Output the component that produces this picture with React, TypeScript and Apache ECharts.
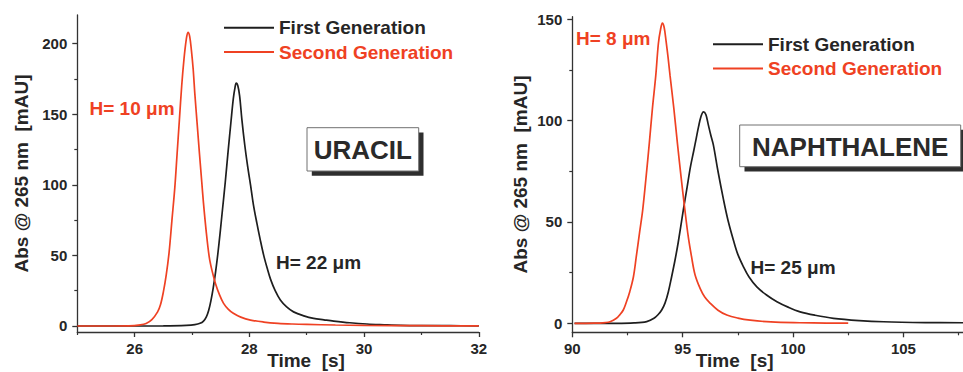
import React, { useEffect, useRef } from "react";
import * as echarts from "echarts";

// ---- Data ----
const seriesNames = ["First Generation", "Second Generation"];

// URACIL (left panel)
const uracilFirstT = [25, 26, 26.5, 26.9, 27.05, 27.14, 27.2, 27.25, 27.29, 27.33, 27.37, 27.41, 27.45, 27.49, 27.53, 27.58, 27.63, 27.68, 27.72, 27.75, 27.77, 27.8, 27.83, 27.87, 27.92, 27.97, 28.02, 28.07, 28.13, 28.19, 28.25, 28.31, 28.37, 28.45, 28.54, 28.65, 28.77, 28.95, 29.12, 29.3, 29.47, 29.75, 30.05, 30.35, 30.64, 31, 31.5, 32];
const uracilFirstAbs = [0, 0, 0.1, 0.5, 1, 1.9, 3.5, 6.5, 11, 18, 27, 38, 51, 66, 82, 102, 124, 145, 161, 169, 172, 170, 163, 146, 128, 113, 100, 86, 73, 61, 50, 41, 33, 25, 18.4, 13.5, 10, 7.2, 5.4, 4.4, 3.5, 2.3, 1.4, 0.9, 0.5, 0.3, 0.2, 0.1];
const uracilSecondT = [25, 25.5, 25.9, 26.1, 26.2, 26.3, 26.4, 26.45, 26.5, 26.55, 26.6, 26.65, 26.7, 26.74, 26.78, 26.82, 26.86, 26.9, 26.93, 26.96, 26.99, 27.02, 27.05, 27.09, 27.13, 27.17, 27.2, 27.25, 27.3, 27.35, 27.41, 27.48, 27.55, 27.63, 27.72, 27.85, 28.02, 28.25, 28.5, 28.75, 29, 29.5, 30, 31, 32];
const uracilSecondAbs = [0, 0, 0.1, 0.8, 1.8, 4.5, 10, 15, 24, 36, 52, 75, 98, 122, 146, 170, 189, 203, 208, 205, 195, 182, 164, 143, 122, 102, 87, 66, 49, 39, 30, 22, 16, 12, 9, 6.3, 4.2, 2.8, 1.9, 1.4, 1.1, 0.7, 0.4, 0.2, 0.1];

// NAPHTHALENE (right panel)
const naphFirstT = [90.1, 92, 92.8, 93.37, 93.7, 93.9, 94.05, 94.2, 94.35, 94.5, 94.65, 94.8, 95.03, 95.2, 95.35, 95.5, 95.61, 95.72, 95.83, 95.94, 96.05, 96.16, 96.27, 96.39, 96.6, 96.85, 97.05, 97.3, 97.5, 97.75, 98.0, 98.36, 98.8, 99.27, 99.8, 100.32, 101, 101.83, 103, 104.1, 106, 107.7];
const naphFirstAbs = [0, 0, 0.2, 0.9, 2.5, 4.5, 6.6, 10, 15.5, 23, 31, 40, 56, 67, 77, 85, 91, 97, 102, 104.3, 103, 98, 93, 88, 75, 61, 51, 41, 34, 28, 23, 18, 14, 10.7, 7.9, 5.7, 4, 2.5, 1.4, 0.8, 0.4, 0.3];
const naphSecondT = [90.1, 91, 91.5, 91.71, 92.0, 92.15, 92.31, 92.45, 92.6, 92.77, 92.9, 93.05, 93.19, 93.35, 93.49, 93.63, 93.78, 93.9, 94.0, 94.08, 94.16, 94.25, 94.34, 94.43, 94.6, 94.76, 94.93, 95.1, 95.25, 95.4, 95.56, 95.8, 96.0, 96.24, 96.6, 97, 97.5, 98.06, 99, 100.3, 101.5, 102.5];
const naphSecondAbs = [0, 0.1, 0.4, 0.8, 2.5, 4.2, 6.6, 10.5, 15.5, 23, 33, 45, 56, 73, 89, 106, 122, 138, 145, 148, 146, 139, 131, 122, 106, 89, 72, 56, 43, 33, 24, 17, 13, 10, 6.5, 4.1, 2.6, 1.6, 0.7, 0.3, 0.15, 0.1];

// Ticks
const uracilYTicks = [0, 50, 100, 150, 200];
const uracilYMinor = [25, 75, 125, 175];
const uracilXTicks = [26, 28, 30, 32];
const uracilXMinor = [25, 27, 29, 31];
const naphYTicks = [0, 50, 100, 150];
const naphYMinor = [25, 75, 125];
const naphXTicks = [90, 95, 100, 105];
const naphXMinor = [92.5, 97.5, 102.5, 107.5];

// Labels
const compoundNames = ["URACIL", "NAPHTHALENE"];
const plateHeights = ["H= 22 μm", "H= 10 μm", "H= 25 μm", "H= 8 μm"];
const yAxisTitle = "Abs @ 265 nm  [mAU]";
const xAxisTitle = "Time  [s]";

const FONT = "'Liberation Sans', Arial, Helvetica, sans-serif";
const RED = "#ef4123";
const BLACK = "#1e1e1e";
const TEXT = "#262626";
const AXIS = "#333333";

const zip = (t: number[], a: number[]) => t.map((x, i) => [x, a[i]]);

export default function App() {
  const ref = useRef<HTMLDivElement>(null);

  useEffect(() => {
    document.body.style.margin = "0";
    if (!ref.current) return;
    const chart = echarts.init(ref.current, undefined, { renderer: "svg" });

    const axisLine = { show: true, onZero: false, lineStyle: { color: AXIS, width: 1.3 } };
    const tickLabel = { fontSize: 15, fontWeight: "bold", color: TEXT, fontFamily: FONT };
    const nameStyle = { fontSize: 19, fontWeight: "bold", color: TEXT, fontFamily: FONT };

    const mainX = (grid: number, min: number, max: number, ticks: number[], pad: number[]) => ({
      type: "value",
      gridIndex: grid,
      min,
      max,
      position: "bottom",
      axisLine,
      splitLine: { show: false },
      axisTick: { show: true, customValues: ticks, length: 5, lineStyle: { color: AXIS, width: 1.3 } },
      axisLabel: { ...tickLabel, customValues: ticks, margin: 9 },
      name: xAxisTitle,
      nameLocation: "middle",
      nameGap: 19,
      nameMoveOverlap: false,
      nameTextStyle: { ...nameStyle, padding: pad },
    });
    const minorX = (grid: number, min: number, max: number, ticks: number[]) => ({
      type: "value",
      gridIndex: grid,
      min,
      max,
      position: "bottom",
      axisLine: { show: false, onZero: false },
      splitLine: { show: false },
      axisTick: { show: true, customValues: ticks, length: 3, lineStyle: { color: AXIS, width: 1.2 } },
      axisLabel: { show: false },
    });
    const mainY = (grid: number, min: number, max: number, ticks: number[], gap: number) => ({
      type: "value",
      gridIndex: grid,
      min,
      max,
      position: "left",
      axisLine,
      splitLine: { show: false },
      axisTick: { show: true, customValues: ticks, length: 5, lineStyle: { color: AXIS, width: 1.3 } },
      axisLabel: { ...tickLabel, customValues: ticks, margin: 10 },
      name: yAxisTitle,
      nameLocation: "middle",
      nameRotate: 90,
      nameGap: gap,
      nameMoveOverlap: false,
      nameTextStyle: nameStyle,
    });
    const minorY = (grid: number, min: number, max: number, ticks: number[]) => ({
      type: "value",
      gridIndex: grid,
      min,
      max,
      position: "left",
      axisLine: { show: false, onZero: false },
      splitLine: { show: false },
      axisTick: { show: true, customValues: ticks, length: 3, lineStyle: { color: AXIS, width: 1.2 } },
      axisLabel: { show: false },
    });

    const line = (name: string, color: string, data: number[][], xi: number, yi: number) => ({
      type: "line",
      name,
      xAxisIndex: xi,
      yAxisIndex: yi,
      data,
      showSymbol: false,
      symbol: "none",
      smooth: 0.35,
      lineStyle: { color, width: 1.7 },
      itemStyle: { color },
      z: color === RED ? 3 : 2,
    });

    const legend = (left: number, top: number) => ({
      left,
      top,
      padding: 0,
      orient: "vertical",
      itemWidth: 50,
      itemHeight: 2,
      itemGap: 5.3,
      icon: "rect",
      selectedMode: false,
      textStyle: { fontSize: 19, fontWeight: "bold", fontFamily: FONT },
      data: [
        { name: seriesNames[0], textStyle: { color: TEXT } },
        { name: seriesNames[1], textStyle: { color: RED } },
      ],
    });

    const box = (x: number, y: number, w: number, h: number, label: string, size: number) => [
      { type: "rect", shape: { x: x + 4.8, y: y + 4.8, width: w, height: h }, style: { fill: "#2e2e2e" }, z: 10 },
      { type: "rect", shape: { x, y, width: w, height: h }, style: { fill: "#ffffff", stroke: "#707070", lineWidth: 1 }, z: 11 },
      {
        type: "text",
        x: x + w / 2,
        y: y + h / 2 + 1,
        style: { text: label, fontSize: size, fontWeight: "bold", fontFamily: FONT, fill: "#2a2a2a", align: "center", verticalAlign: "middle" },
        z: 12,
      },
    ];
    const htext = (x: number, y: number, text: string, color: string) => ({
      type: "text",
      x,
      y,
      style: { text, fontSize: 19, fontWeight: "bold", fontFamily: FONT, fill: color, align: "left", verticalAlign: "middle" },
      z: 12,
    });

    chart.setOption({
      animation: false,
      backgroundColor: "#ffffff",
      grid: [
        { left: 77.3, top: 15, width: 401.5, height: 317, containLabel: false, outerBoundsMode: "none" },
        { left: 572.3, top: 16.7, width: 390.7, height: 315.6, containLabel: false, outerBoundsMode: "none" },
      ],
      xAxis: [
        mainX(0, 25, 32, uracilXTicks, [0, 0, 0, 56]),
        minorX(0, 25, 32, uracilXMinor),
        mainX(1, 90, 107.7, naphXTicks, [0, 66, 0, 0]),
        minorX(1, 90, 107.7, naphXMinor),
      ],
      yAxis: [
        mainY(0, -4.25, 220.25, uracilYTicks, 46.5),
        minorY(0, -4.25, 220.25, uracilYMinor),
        mainY(1, -4.4, 151.2, naphYTicks, 42),
        minorY(1, -4.4, 151.2, naphYMinor),
      ],
      legend: [legend(224, 18.2), legend(713, 34.8)],
      series: [
        line(seriesNames[0], BLACK, zip(uracilFirstT, uracilFirstAbs), 0, 0),
        line(seriesNames[1], RED, zip(uracilSecondT, uracilSecondAbs), 0, 0),
        line(seriesNames[0], BLACK, zip(naphFirstT, naphFirstAbs), 2, 2),
        line(seriesNames[1], RED, zip(naphSecondT, naphSecondAbs), 2, 2),
      ],
      graphic: [
        ...box(307, 127.7, 111.7, 43.3, compoundNames[0], 26),
        ...box(739.7, 125, 221, 41.7, compoundNames[1], 26),
        htext(276, 262, plateHeights[0], TEXT),
        htext(89.5, 108, plateHeights[1], RED),
        htext(750.5, 267.7, plateHeights[2], TEXT),
        htext(576, 38.3, plateHeights[3], RED),
      ],
    });

    return () => chart.dispose();
  }, []);

  return <div ref={ref} style={{ width: 963, height: 372 }} />;
}
